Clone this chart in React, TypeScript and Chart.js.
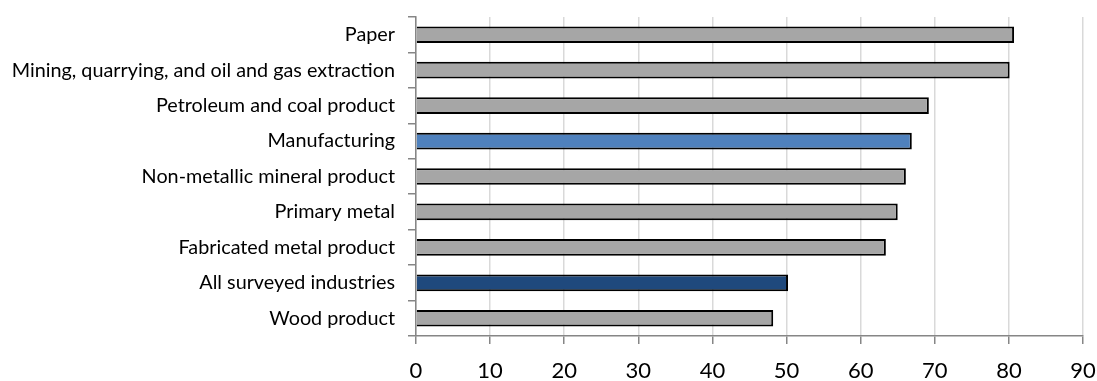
import React, { useEffect, useRef } from "react";
import { Chart, registerables } from "chart.js";

Chart.register(...registerables);

const categories = [
  "Paper",
  "Mining, quarrying, and oil and gas extraction",
  "Petroleum and coal product",
  "Manufacturing",
  "Non-metallic mineral product",
  "Primary metal",
  "Fabricated metal product",
  "All surveyed industries",
  "Wood product",
];
const values = [80.7, 80.1, 69.2, 66.9, 66.1, 65.0, 63.4, 50.2, 48.2];
const barColors = [
  "#A6A6A6", "#A6A6A6", "#A6A6A6", "#4F81BD", "#A6A6A6",
  "#A6A6A6", "#A6A6A6", "#1F497D", "#A6A6A6",
];
const xMin = 0;
const xMax = 90;
const xStep = 10;

export default function App() {
  const ref = useRef<HTMLCanvasElement>(null);
  useEffect(() => {
    if (!ref.current) return;
    const chart = new Chart(ref.current, {
      type: "bar",
      data: {
        labels: categories,
        datasets: [
          {
            data: values,
            backgroundColor: barColors,
            borderColor: "#000000",
            borderWidth: 2,
            barPercentage: 0.47,
            categoryPercentage: 1,
          },
        ],
      },
      options: {
        indexAxis: "y",
        animation: false,
        responsive: false,
        maintainAspectRatio: false,
        layout: { padding: { top: 17, right: 0, bottom: 0, left: 0 } },
        plugins: { legend: { display: false }, tooltip: { enabled: false } },
        scales: {
          x: {
            min: xMin,
            max: xMax,
            ticks: {
              stepSize: xStep,
              color: "#000000",
              font: { family: "Lato", size: 22 },
              padding: 14,
            },
            grid: {
              color: "#D9D9D9",
              tickColor: "#868686",
              tickLength: 8,
              lineWidth: 1.5,
            },
            border: { color: "#868686", width: 1.5 },
            afterFit: (s: any) => {
              s.height = 45;
              s.paddingRight = 14;
              s.paddingLeft = 0;
            },
          },
          y: {
            offset: true,
            ticks: {
              color: "#000000",
              font: { family: "Lato", size: 19.8 },
              padding: 13,
              autoSkip: false,
            },
            grid: {
              offset: true,
              drawOnChartArea: false,
              tickColor: "#868686",
              tickLength: 8,
              lineWidth: 1.5,
            },
            border: { color: "#868686", width: 1.5 },
            afterFit: (s: any) => {
              s.width = 416;
              s.paddingTop = 0;
              s.paddingBottom = 0;
            },
          },
        },
      },
    });
    return () => chart.destroy();
  }, []);
  return (
    <div style={{ position: "fixed", left: 0, top: 0, width: 1097, height: 381, background: "#fff" }}>
      <canvas ref={ref} width={1097} height={381} style={{ width: 1097, height: 381 }} />
    </div>
  );
}
